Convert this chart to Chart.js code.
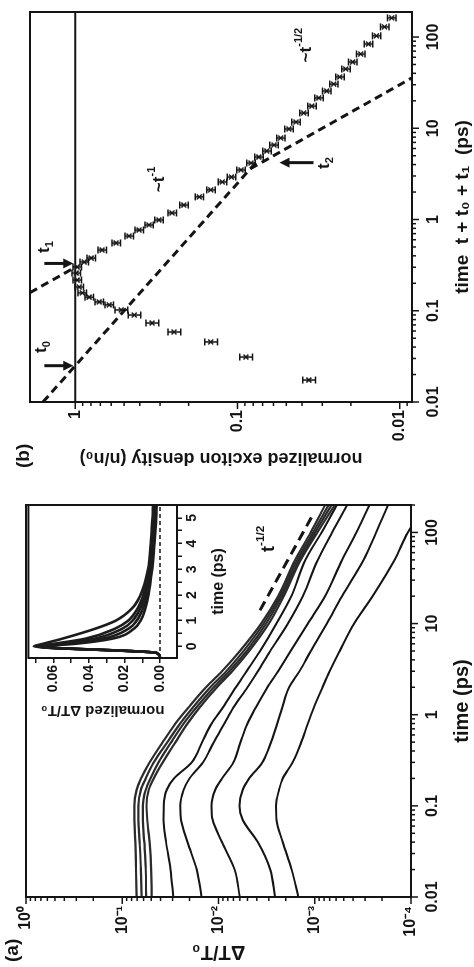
<!DOCTYPE html>
<html>
<head>
<meta charset="utf-8">
<title>exciton decay</title>
<script src="https://cdn.jsdelivr.net/npm/chart.js@4.4.1/dist/chart.umd.min.js"></script>
<style>
  html, body { margin: 0; padding: 0; background: #fff; }
  body { width: 474px; height: 967px; overflow: hidden; position: relative; }
  /* the figure is laid out landscape and turned a quarter turn, like the scan */
  #fig { position: absolute; left: 0; top: 0; width: 967px; height: 474px;
         transform-origin: 0 0; transform: translate(0, 967px) rotate(-90deg); }
  #fig canvas { position: absolute; }
  .tag { position: absolute; font: bold 19px "Liberation Sans", Arial, sans-serif; color: #141414; }
</style>
</head>
<body>
<div id="fig">
  <canvas id="chartA" width="487" height="474" style="left:0;top:0"></canvas>
  <canvas id="chartIn" width="230" height="215" style="left:240px;top:18px"></canvas>
  <canvas id="chartB" width="480" height="474" style="left:487px;top:0"></canvas>
  <div class="tag" style="left:5px;top:1px">(a)</div>
  <div class="tag" style="left:499px;top:12px">(b)</div>
</div>
<script>
// ---- panel (a): dT/T0 transients, one curve per excitation density ----
const timeA = [0.01,0.02,0.04,0.07,0.1,0.15,0.2,0.3,0.5,0.8,1.2,2,3,5,10,20,50,100,200];
const dT1 = [0.071,0.072,0.073,0.075,0.075,0.071,0.064,0.052,0.038,0.028,0.0205,0.0135,0.0092,0.0060,0.0036,0.0024,0.0016,0.0011,0.00078];
const dT2 = [0.063,0.064,0.066,0.068,0.068,0.064,0.057,0.047,0.034,0.025,0.0185,0.0122,0.0083,0.0055,0.0034,0.0023,0.00152,0.00104,0.00072];
const dT3 = [0.0566,0.057,0.059,0.061,0.061,0.057,0.051,0.042,0.031,0.023,0.017,0.0112,0.0077,0.0051,0.0032,0.0022,0.00145,0.00099,0.00067];
const dT4 = [0.0495,0.050,0.052,0.055,0.056,0.053,0.047,0.038,0.028,0.021,0.0157,0.0104,0.0072,0.0048,0.0030,0.0021,0.0014,0.00094,0.00062];
const dT5 = [0.0295,0.0315,0.035,0.0372,0.037,0.0345,0.029,0.019,0.0148,0.0118,0.009,0.0066,0.0051,0.0037,0.0025,0.00175,0.00125,0.00085,0.00059];
const dT6 = [0.015,0.0168,0.021,0.0245,0.025,0.023,0.020,0.0145,0.0112,0.0087,0.0070,0.0050,0.0039,0.0029,0.0019,0.00133,0.00093,0.00066,0.00046];
const dT7 = [0.0060,0.0068,0.0092,0.0115,0.0118,0.0108,0.0092,0.0070,0.0059,0.0050,0.0041,0.0031,0.0024,0.00178,0.00118,0.00078,0.00052,0.00037,0.00027];
const dT8 = [0.00259,0.0029,0.0039,0.0056,0.00605,0.0056,0.0048,0.0035,0.00285,0.00245,0.00218,0.00185,0.00144,0.0011,0.00075,0.00052,0.00031,0.00023,0.000173];
const dT9 = [0.00148,0.00174,0.00215,0.0025,0.00253,0.00235,0.00215,0.0017,0.00138,0.00118,0.00102,0.00083,0.0007,0.00055,0.00039,0.00025,0.000148,0.000108,0.00007];
const guideAT = [14, 147];          // t^-1/2 guide
const guideAV = [0.0037, 0.00108];
const timeTicks = [0.01, 0.1, 1, 10, 100];
const timeLabels = ['0.01', '0.1', '1', '10', '100'];
const dTTicks = [1, 0.1, 0.01, 0.001, 0.0001];
const dTLabels = ['10\u2070', '10\u207B\u00B9', '10\u207B\u00B2', '10\u207B\u00B3', '10\u207B\u2074'];

// ---- inset: normalized dT/T0, linear time ----
const timeIn = [-0.45,-0.25,0,0.1,0.3,0.7,1,1.5,2,3,4,5,5.5];
const nIn1 = [0,0.002,0.071,0.066,0.055,0.036,0.025,0.0155,0.011,0.0068,0.0052,0.0043,0.0040];
const nIn2 = [0,0.002,0.070,0.060,0.042,0.025,0.018,0.0125,0.0095,0.0062,0.0046,0.0036,0.0033];
const nIn3 = [0,0.002,0.069,0.056,0.037,0.021,0.0155,0.011,0.0085,0.0057,0.0042,0.0032,0.0029];
const nIn4 = [0,0.002,0.068,0.052,0.032,0.0175,0.0132,0.0095,0.0075,0.0051,0.0037,0.0027,0.0024];
const nIn5 = [0,0.002,0.067,0.048,0.027,0.0145,0.011,0.0082,0.0065,0.0045,0.0032,0.0022,0.0019];
const inXTicks = [0,0.5,1,1.5,2,2.5,3,3.5,4,4.5,5];
const inYTicks = [0,0.01,0.02,0.03,0.04,0.05,0.06,0.07];

// ---- panel (b): normalized exciton density ----
const timeB = [0.0174,0.0311,0.0455,0.0585,0.0734,0.0898,0.102,0.116,0.125,0.141,0.157,0.182,0.217,0.259,0.302,0.342,0.378,0.463,0.553,0.659,0.767,0.871,0.988,1.18,1.44,1.77,2.11,2.58,2.92,3.49,4.16,4.84,5.63,6.55,7.82,9.82,11.7,14.7,17.5,21.5,25.6,30.5,36.5,44.6,53.2,65.1,83.8,103,129,162];
const densB = [0.0363,0.0887,0.146,0.246,0.336,0.433,0.521,0.618,0.712,0.821,0.906,0.946,0.973,0.987,0.973,0.881,0.798,0.683,0.560,0.466,0.404,0.351,0.305,0.253,0.214,0.172,0.146,0.124,0.109,0.0952,0.0826,0.0738,0.0659,0.0596,0.0541,0.0482,0.0436,0.039,0.0348,0.0315,0.0282,0.0255,0.0234,0.0215,0.0195,0.0174,0.0156,0.0139,0.0124,0.0112];
const errB = [0.09,0.09,0.09,0.09,0.09,0.09,0.09,0.06,0.06,0.06,0.06,0.06,0.06,0.06,0.06,0.06,0.06,0.06,0.06,0.06,0.06,0.06,0.06,0.06,0.06,0.06,0.06,0.06,0.06,0.06,0.06,0.06,0.06,0.06,0.06,0.06,0.06,0.06,0.06,0.06,0.06,0.06,0.06,0.06,0.06,0.06,0.06,0.06,0.06,0.06];
const halfT = [0.01, 4.6];          // ~t^-1/2 line through t0
const halfN = [1.58, 0.0737];
const oneT1 = [0.158, 0.30];        // ~t^-1 line through t1
const oneN1 = [1.9, 1.0];
const oneT2 = [3.6, 35.5];
const oneN2 = [0.0833, 0.00845];
const arrowT = [0.025, 0.33, 4.2];  // t0, t1, t2
const arrowFrom = [1.55, 1.55, 0.034];
const arrowTo = [1.03, 1.03, 0.055];
const yTicksB = [1, 0.1, 0.01];
const yLabelsB = ['1', '0.1', '0.01'];

const FAM = '"Liberation Sans", Arial, Helvetica, sans-serif';
const INK = '#141414';
Chart.defaults.font.family = FAM;
Chart.defaults.color = INK;

function xy(xs, ys) { return xs.map((x, i) => ({x: x, y: ys[i]})); }

function rich(ctx, x, y, parts, size) {
  // parts: [text, 0 normal | 1 superscript | -1 subscript]
  let w = 0;
  parts.forEach(p => { ctx.font = 'bold ' + (p[1] ? size * 0.65 : size) + 'px ' + FAM; w += ctx.measureText(p[0]).width; });
  let cx = x - w / 2;
  ctx.textAlign = 'left';
  ctx.textBaseline = 'middle';
  parts.forEach(p => {
    ctx.font = 'bold ' + (p[1] ? size * 0.65 : size) + 'px ' + FAM;
    ctx.fillText(p[0], cx, y + (p[1] === 1 ? -size * 0.42 : p[1] === -1 ? size * 0.32 : 0));
    cx += ctx.measureText(p[0]).width;
  });
}

function outTicks(ctx, scale, a, horizontal) {
  let e = Math.floor(Math.log10(scale.min));
  for (; Math.pow(10, e) <= scale.max; e++) {
    for (let k = 1; k < 10; k++) {
      const v = k * Math.pow(10, e);
      if (v < scale.min * 0.999 || v > scale.max * 1.001) continue;
      const p = scale.getPixelForValue(v);
      const len = k === 1 ? 7 : 4;
      ctx.beginPath();
      if (horizontal) { ctx.moveTo(p, a.bottom); ctx.lineTo(p, a.bottom + len); }
      else { ctx.moveTo(a.left, p); ctx.lineTo(a.left - len, p); }
      ctx.stroke();
    }
  }
}

function framePlugin(logTicks, fillWhite, extra) {
  return {
    id: 'frame',
    beforeDraw(chart) {
      if (!fillWhite) return;
      const a = chart.chartArea, ctx = chart.ctx;
      ctx.save(); ctx.fillStyle = '#fff';
      ctx.fillRect(a.left, a.top, a.right - a.left, a.bottom - a.top);
      ctx.restore();
    },
    afterDatasetsDraw(chart) {
      const a = chart.chartArea, ctx = chart.ctx;
      ctx.save();
      ctx.strokeStyle = INK; ctx.fillStyle = INK;
      if (extra) extra(chart, ctx);
      ctx.lineWidth = 2;
      ctx.strokeRect(a.left, a.top, a.right - a.left, a.bottom - a.top);
      if (logTicks) {
        ctx.lineWidth = 1.5;
        outTicks(ctx, chart.scales.x, a, true);
        outTicks(ctx, chart.scales.y, a, false);
      }
      ctx.restore();
    }
  };
}

function logAxis(min, max, vals, labels, pad, title, titleSize, titlePad) {
  return {
    type: 'logarithmic', min: min, max: max,
    afterBuildTicks: s => { s.ticks = vals.map(v => ({value: v})); },
    ticks: { callback: (v, i) => labels[i], autoSkip: false, maxRotation: 0, padding: pad,
             color: INK, font: {size: 16, weight: 'bold'} },
    grid: { display: false, drawTicks: false },
    border: { display: false },
    title: { display: true, text: title, color: INK, font: {size: titleSize, weight: 'bold'}, padding: titlePad }
  };
}

function curve(ys, w, col) {
  return { data: xy(timeA, ys), showLine: true, pointRadius: 0, borderColor: col, borderWidth: w,
           cubicInterpolationMode: 'monotone' };
}

// panel (a)
const axA = logAxis(0.01, 200, timeTicks, timeLabels, 12, 'time (ps)', 20, {top: 0, bottom: 0});
axA.afterFit = s => { s.height = 63; };
const ayA = logAxis(0.0001, 1, dTTicks, dTLabels, 9, '\u0394T/T\u2080', 20, {top: 3, bottom: 0});
ayA.afterFit = s => { s.width = 70; };
new Chart(document.getElementById('chartA'), {
  type: 'scatter',
  data: { datasets: [
    curve(dT1, 2.2, '#2b2b2b'), curve(dT2, 2.2, '#2b2b2b'), curve(dT3, 2.2, '#2b2b2b'), curve(dT4, 2.2, '#2b2b2b'),
    curve(dT5, 2, INK), curve(dT6, 2, INK), curve(dT7, 2, INK), curve(dT8, 2, INK), curve(dT9, 2, INK),
    { data: xy(guideAT, guideAV), showLine: true, pointRadius: 0, borderColor: INK, borderWidth: 3, borderDash: [10, 6] }
  ]},
  options: {
    responsive: false, animation: false,
    layout: { padding: {left: 0, right: 25, top: 26, bottom: 0}, autoPadding: false },
    plugins: { legend: {display: false}, tooltip: {enabled: false} },
    scales: { x: axA, y: ayA }
  },
  plugins: [framePlugin(true, false, (chart, ctx) => {
    const x = chart.scales.x.getPixelForValue(85), y = chart.scales.y.getPixelForValue(0.0030);
    rich(ctx, x, y, [['t', 0], ['-1/2', 1]], 18);
  })]
});

// inset
function inCurve(ys) {
  return { data: xy(timeIn, ys), showLine: true, pointRadius: 0, borderColor: '#1c1c1c', borderWidth: 2.6,
           cubicInterpolationMode: 'monotone' };
}
new Chart(document.getElementById('chartIn'), {
  type: 'scatter',
  data: { datasets: [
    inCurve(nIn1), inCurve(nIn2), inCurve(nIn3), inCurve(nIn4), inCurve(nIn5),
    { data: xy([-0.45, 5.5], [0, 0]), showLine: true, pointRadius: 0, borderColor: INK, borderWidth: 1.5, borderDash: [4, 3] }
  ]},
  options: {
    responsive: false, animation: false,
    layout: { padding: {left: 0, right: 8, top: 8, bottom: 0}, autoPadding: false },
    plugins: { legend: {display: false}, tooltip: {enabled: false} },
    scales: {
      x: { type: 'linear', min: -0.45, max: 5.5,
           afterBuildTicks: s => { s.ticks = inXTicks.map(v => ({value: v})); },
           afterFit: s => { s.height = 56; },
           ticks: { callback: v => (v % 1 === 0 ? String(v) : ''), autoSkip: false, maxRotation: 0, padding: 2,
                    color: INK, font: {size: 14, weight: 'bold'} },
           grid: { drawOnChartArea: false, drawTicks: true, tickLength: 5, color: INK, lineWidth: 1.5 },
           border: { display: false },
           title: { display: true, text: 'time (ps)', color: INK, font: {size: 16, weight: 'bold'}, padding: {top: 0, bottom: 5} } },
      y: { type: 'linear', min: -0.0095, max: 0.074,
           afterBuildTicks: s => { s.ticks = inYTicks.map(v => ({value: v})); },
           afterFit: s => { s.width = 69; },
           ticks: { callback: v => (Math.round(v * 100) % 2 === 0 ? v.toFixed(2) : ''), autoSkip: false, padding: 2,
                    color: INK, font: {size: 14, weight: 'bold'} },
           grid: { drawOnChartArea: false, drawTicks: true, tickLength: 5, color: INK, lineWidth: 1.5 },
           border: { display: false },
           title: { display: true, text: 'normalized \u0394T/T\u2080', color: INK, font: {size: 15, weight: 'bold'}, padding: {top: 8, bottom: 0} } }
    }
  },
  plugins: [framePlugin(false, true, null)]
});

// panel (b)
const axB = logAxis(0.01, 188, timeTicks, timeLabels, 12, 'time  t + t\u2080 + t\u2081  (ps)', 19, {top: 0, bottom: 0});
axB.afterFit = s => { s.height = 62; };
const ayB = logAxis(0.0084, 1.9, yTicksB, yLabelsB, 8, 'normalized exciton density (n/n\u2080)', 18, {top: 11, bottom: 0});
ayB.afterFit = s => { s.width = 78; };
function guide(ts, ns) {
  return { data: xy(ts, ns), showLine: true, pointRadius: 0, borderColor: INK, borderWidth: 3, borderDash: [8, 5] };
}
new Chart(document.getElementById('chartB'), {
  type: 'scatter',
  data: { datasets: [
    { data: xy(timeB, densB), pointStyle: 'crossRot', pointRadius: 3.5, borderWidth: 1.5,
      borderColor: '#222', backgroundColor: '#222' },
    { data: xy([0.01, 188], [1, 1]), showLine: true, pointRadius: 0, borderColor: INK, borderWidth: 2 },
    guide(halfT, halfN), guide(oneT1, oneN1), guide(oneT2, oneN2)
  ]},
  options: {
    responsive: false, animation: false,
    layout: { padding: {left: 0, right: 12, top: 30, bottom: 0}, autoPadding: false },
    plugins: { legend: {display: false}, tooltip: {enabled: false} },
    scales: { x: axB, y: ayB }
  },
  plugins: [framePlugin(true, false, (chart, ctx) => {
    const xs = chart.scales.x, ys = chart.scales.y;
    // error bars
    ctx.lineWidth = 1.5;
    timeB.forEach((t, i) => {
      const x = xs.getPixelForValue(t);
      const y1 = ys.getPixelForValue(densB[i] * (1 + errB[i]));
      const y2 = ys.getPixelForValue(densB[i] * (1 - errB[i]));
      ctx.beginPath();
      ctx.moveTo(x, y1); ctx.lineTo(x, y2);
      ctx.moveTo(x - 3.5, y1); ctx.lineTo(x + 3.5, y1);
      ctx.moveTo(x - 3.5, y2); ctx.lineTo(x + 3.5, y2);
      ctx.stroke();
    });
    // arrows
    arrowT.forEach((t, i) => {
      const x = xs.getPixelForValue(t);
      const y0 = ys.getPixelForValue(arrowFrom[i]);
      const y1 = ys.getPixelForValue(arrowTo[i]);
      const dir = Math.sign(y1 - y0);
      ctx.lineWidth = 3;
      ctx.beginPath(); ctx.moveTo(x, y0); ctx.lineTo(x, y1 - dir * 8); ctx.stroke();
      ctx.beginPath(); ctx.moveTo(x - 5, y1 - dir * 10); ctx.lineTo(x + 5, y1 - dir * 10); ctx.lineTo(x, y1);
      ctx.closePath(); ctx.fill();
    });
    rich(ctx, xs.getPixelForValue(0.040), ys.getPixelForValue(1.62), [['t', 0], ['0', -1]], 17);
    rich(ctx, xs.getPixelForValue(0.50), ys.getPixelForValue(1.55), [['t', 0], ['1', -1]], 17);
    rich(ctx, xs.getPixelForValue(4.16), ys.getPixelForValue(0.029), [['t', 0], ['2', -1]], 17);
    rich(ctx, xs.getPixelForValue(2.75), ys.getPixelForValue(0.303), [['~t', 0], ['-1', 1]], 17);
    rich(ctx, xs.getPixelForValue(81.6), ys.getPixelForValue(0.0375), [['~t', 0], ['-1/2', 1]], 17);
  })]
});
</script>
</body>
</html>
